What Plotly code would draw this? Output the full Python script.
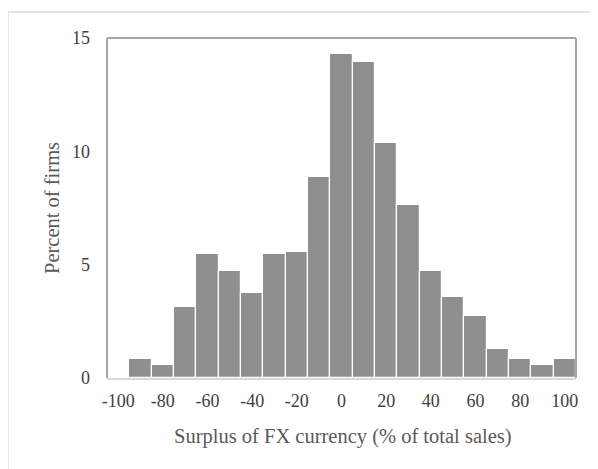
import plotly.graph_objects as go

bin_centers = [-100, -90, -80, -70, -60, -50, -40, -30, -20, -10, 0,
               10, 20, 30, 40, 50, 60, 70, 80, 90, 100]
percent_firms = [0.0, 0.84, 0.59, 3.15, 5.47, 4.72, 3.74, 5.47, 5.54, 8.88, 14.28,
                 13.93, 10.35, 7.62, 4.72, 3.57, 2.73, 1.28, 0.82, 0.59, 0.82]
x_tick_vals = [-100, -80, -60, -40, -20, 0, 20, 40, 60, 80, 100]
x_tick_text = ["-100", "-80", "-60", "-40", "-20", "0", "20", "40", "60", "80", "100"]
y_tick_vals = [0, 5, 10, 15]

OFF = 8  # page body margin
W, H = 598 - OFF, 469 - OFF
L, R, T, B = 107 - OFF, 22, 38 - OFF, 91
pw, ph = W - L - R, H - T - B

def px(xp):
    return (xp - OFF - L) / pw

def py(yp):
    return (OFF + T + ph - yp) / ph

FONT = "Liberation Serif"

fig = go.Figure()
fig.add_trace(go.Bar(
    x=bin_centers, y=percent_firms, width=10,
    marker=dict(color="#8f8f8f", line=dict(color="white", width=1.2)),
))

fig.update_layout(
    width=W, height=H,
    margin=dict(l=L, r=R, t=T, b=B),
    paper_bgcolor="white", plot_bgcolor="white",
    showlegend=False, bargap=0,
    font=dict(family=FONT, size=16, color="#404040"),
    xaxis=dict(range=[-105, 105], tickvals=x_tick_vals, ticktext=x_tick_text,
               showgrid=False, zeroline=False, showline=True,
               linecolor="#d9d9d9", linewidth=2, ticks="", ticklabelstandoff=5,
               tickfont=dict(family=FONT, size=18, color="#404040")),
    yaxis=dict(range=[0, 15], tickvals=y_tick_vals, showgrid=False,
               zeroline=False, showline=False, ticks="", ticklabelstandoff=16,
               tickfont=dict(family=FONT, size=18, color="#404040")),
    shapes=[
        dict(type="line", xref="paper", yref="paper", x0=0, x1=0, y0=0, y1=1,
             line=dict(color="#a6a6a6", width=2)),
        dict(type="line", xref="paper", yref="paper", x0=0, x1=1, y0=1, y1=1,
             line=dict(color="#a6a6a6", width=2)),
        dict(type="line", xref="paper", yref="paper", x0=1, x1=1, y0=0, y1=1,
             line=dict(color="#a6a6a6", width=2)),
        dict(type="line", xref="paper", yref="paper", x0=px(8), x1=px(8),
             y0=py(11), y1=py(H + OFF + 2), line=dict(color="#e6e6e6", width=2)),
        dict(type="line", xref="paper", yref="paper", x0=px(7), x1=px(W + OFF + 2),
             y0=py(12), y1=py(12), line=dict(color="#e6e6e6", width=2)),
    ],
    annotations=[
        dict(text="Surplus of FX currency (% of total sales)", xref="paper", yref="paper",
             x=px(343), y=py(436), xanchor="center", yanchor="middle", showarrow=False,
             font=dict(family=FONT, size=20.5, color="#595959")),
        dict(text="Percent of firms", xref="paper", yref="paper",
             x=px(52), y=py(208), xanchor="center", yanchor="middle", showarrow=False,
             textangle=-90, font=dict(family=FONT, size=20.5, color="#595959")),
    ],
)

fig.write_html("out.html")
